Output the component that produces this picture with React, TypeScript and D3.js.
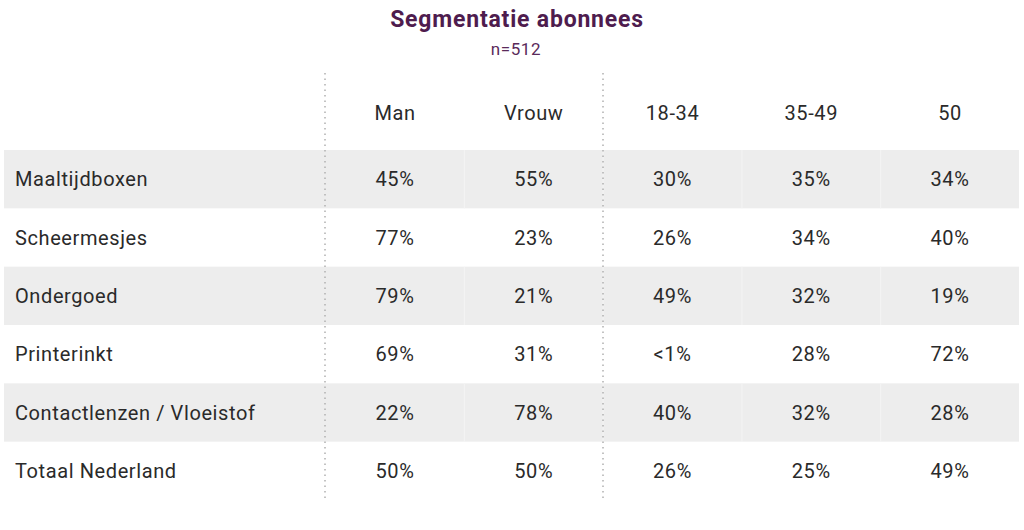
import React from "react";
import * as d3 from "d3";

const title = "Segmentatie abonnees";
const subtitle = "n=512";
const columns = ["Man", "Vrouw", "18-34", "35-49", "50"];
const categories = [
  "Maaltijdboxen",
  "Scheermesjes",
  "Ondergoed",
  "Printerinkt",
  "Contactlenzen / Vloeistof",
  "Totaal Nederland",
];
const man = ["45%", "77%", "79%", "69%", "22%", "50%"];
const vrouw = ["55%", "23%", "21%", "31%", "78%", "50%"];
const age1834 = ["30%", "26%", "49%", "<1%", "40%", "26%"];
const age3549 = ["35%", "34%", "32%", "28%", "32%", "25%"];
const age50 = ["34%", "40%", "19%", "72%", "28%", "49%"];

const W = 1024;
const H = 530;
const font = "Roboto, 'Noto Sans', sans-serif";

export default function App() {
  const values = [man, vrouw, age1834, age3549, age50];
  const y = d3
    .scaleBand<string>()
    .domain(categories)
    .range([150, 500])
    .paddingInner(0)
    .paddingOuter(0);
  const x = d3
    .scalePoint<string>()
    .domain(columns)
    .range([395, 950]);
  const step = x.step();
  const headerY = 113;
  const textProps = {
    fontSize: 20,
    fill: "#2a2a2a",
    fontWeight: 400,
    letterSpacing: 0.6,
  };

  return (
    <svg
      width={W}
      height={H}
      style={{ position: "absolute", left: 0, top: 0, background: "#fff" }}
      fontFamily={font}
    >
      <text x={517} y={27} textAnchor="middle" fontSize={23} fontWeight={700} letterSpacing={0.8} fill="#4e1c4e">
        {title}
      </text>
      <text x={516} y={55} textAnchor="middle" fontSize={17} fontWeight={400} letterSpacing={0.6} fill="#5a2a5a">
        {subtitle}
      </text>
      {categories.map((c, i) =>
        i % 2 === 0 ? (
          <g key={"bg" + c}>
            <rect x={4} y={y(c)!} width={1015} height={y.bandwidth()} fill="#ededed" />
            {columns.slice(0, -1).map((col) => (
              <line
                key={col}
                x1={x(col)! + step / 2}
                x2={x(col)! + step / 2}
                y1={y(c)!}
                y2={y(c)! + y.bandwidth()}
                stroke="#f4f4f4"
                strokeWidth={1}
              />
            ))}
          </g>
        ) : null
      )}
      {[325, 603].map((lx) => (
        <line
          key={lx}
          x1={lx}
          x2={lx}
          y1={73}
          y2={500}
          stroke="#b0b0b0"
          strokeWidth={1.5}
          strokeDasharray="1.5 4"
        />
      ))}
      {columns.map((col) => (
        <text
          key={col}
          x={x(col)!}
          y={headerY}
          textAnchor="middle"
          dominantBaseline="central"
          {...textProps}
        >
          {col}
        </text>
      ))}
      {categories.map((c, i) => (
        <g key={c}>
          <text
            x={15}
            y={y(c)! + y.bandwidth() / 2}
            dominantBaseline="central"
            {...textProps}
          >
            {c}
          </text>
          {columns.map((col, j) => (
            <text
              key={col}
              x={x(col)!}
              y={y(c)! + y.bandwidth() / 2}
              textAnchor="middle"
              dominantBaseline="central"
              {...textProps}
            >
              {values[j][i]}
            </text>
          ))}
        </g>
      ))}
    </svg>
  );
}
